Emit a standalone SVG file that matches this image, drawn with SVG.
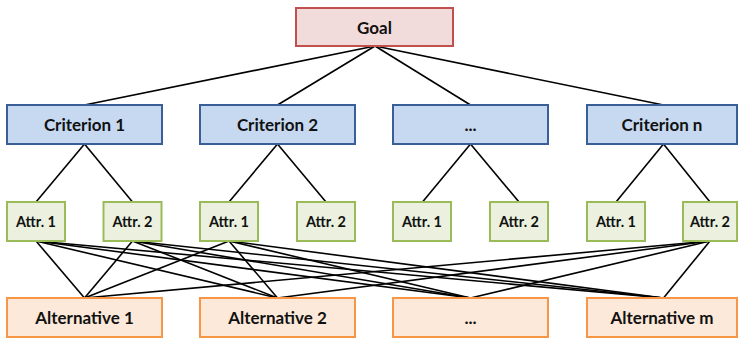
<svg xmlns="http://www.w3.org/2000/svg" width="739" height="338" viewBox="0 0 739 338">
<style>
.t{font-family:Lato,"Open Sans","Liberation Sans",sans-serif;font-weight:bold;fill:#111;text-anchor:middle;dominant-baseline:central}
.big{font-size:17px}
.small{font-size:14.5px}
.goal{fill:#f2dcdb;stroke:#c0504d;stroke-width:2}
.crit{fill:#c6d9f1;stroke:#3a5f96;stroke-width:2}
.attr{fill:#ebf1de;stroke:#9bbb59;stroke-width:2}
.alt{fill:#fde9d9;stroke:#f79646;stroke-width:2}
.c line{stroke:#000;stroke-width:1.6}
</style>
<rect width="739" height="338" fill="#fff"/>
<g class="c" id="connectors">
<line x1="375" y1="46" x2="84.5" y2="105"/>
<line x1="375" y1="46" x2="277.5" y2="105"/>
<line x1="375" y1="46" x2="470.5" y2="105"/>
<line x1="375" y1="46" x2="663.5" y2="105"/>
<line x1="84.5" y1="144" x2="36" y2="202"/>
<line x1="84.5" y1="144" x2="132.5" y2="202"/>
<line x1="277.5" y1="144" x2="229" y2="202"/>
<line x1="277.5" y1="144" x2="326" y2="202"/>
<line x1="470.5" y1="144" x2="422.5" y2="202"/>
<line x1="470.5" y1="144" x2="519" y2="202"/>
<line x1="663.5" y1="144" x2="616" y2="202"/>
<line x1="663.5" y1="144" x2="710" y2="202"/>
<line x1="36" y1="241" x2="84.5" y2="298"/>
<line x1="36" y1="241" x2="277.5" y2="298"/>
<line x1="36" y1="241" x2="470.5" y2="298"/>
<line x1="36" y1="241" x2="663.5" y2="298"/>
<line x1="132.5" y1="241" x2="84.5" y2="298"/>
<line x1="132.5" y1="241" x2="277.5" y2="298"/>
<line x1="132.5" y1="241" x2="470.5" y2="298"/>
<line x1="132.5" y1="241" x2="663.5" y2="298"/>
<line x1="229" y1="241" x2="84.5" y2="298"/>
<line x1="229" y1="241" x2="277.5" y2="298"/>
<line x1="229" y1="241" x2="470.5" y2="298"/>
<line x1="229" y1="241" x2="663.5" y2="298"/>
<line x1="710" y1="241" x2="84.5" y2="298"/>
<line x1="710" y1="241" x2="277.5" y2="298"/>
<line x1="710" y1="241" x2="470.5" y2="298"/>
<line x1="710" y1="241" x2="663.5" y2="298"/>
</g>
<g id="goal"><rect class="goal" x="296" y="8" width="157" height="38"/><text class="t big" x="374.5" y="27">Goal</text></g>
<g id="crit1"><rect class="crit" x="7" y="105" width="155" height="39"/><text class="t big" x="84.5" y="124.5">Criterion 1</text></g>
<g id="crit2"><rect class="crit" x="200" y="105" width="155" height="39"/><text class="t big" x="277.5" y="124.5">Criterion 2</text></g>
<g id="crit3"><rect class="crit" x="393" y="105" width="155" height="39"/><text class="t big" x="470.5" y="124.5">...</text></g>
<g id="critn"><rect class="crit" x="587" y="105" width="150" height="39"/><text class="t big" x="662" y="124.5">Criterion n</text></g>
<g id="a11"><rect class="attr" x="7" y="202" width="58" height="39"/><text class="t small" x="36" y="221.5">Attr. 1</text></g>
<g id="a12"><rect class="attr" x="103.5" y="202" width="58" height="39"/><text class="t small" x="132.5" y="221.5">Attr. 2</text></g>
<g id="a21"><rect class="attr" x="200" y="202" width="58" height="39"/><text class="t small" x="229" y="221.5">Attr. 1</text></g>
<g id="a22"><rect class="attr" x="297" y="202" width="58" height="39"/><text class="t small" x="326" y="221.5">Attr. 2</text></g>
<g id="a31"><rect class="attr" x="393" y="202" width="58" height="39"/><text class="t small" x="422" y="221.5">Attr. 1</text></g>
<g id="a32"><rect class="attr" x="490" y="202" width="58" height="39"/><text class="t small" x="519" y="221.5">Attr. 2</text></g>
<g id="an1"><rect class="attr" x="587" y="202" width="58" height="39"/><text class="t small" x="616" y="221.5">Attr. 1</text></g>
<g id="an2"><rect class="attr" x="683" y="202" width="54" height="39"/><text class="t small" x="710" y="221.5">Attr. 2</text></g>
<g id="alt1"><rect class="alt" x="7" y="298" width="155" height="39"/><text class="t big" x="84.5" y="317.5">Alternative 1</text></g>
<g id="alt2"><rect class="alt" x="200" y="298" width="155" height="39"/><text class="t big" x="277.5" y="317.5">Alternative 2</text></g>
<g id="alt3"><rect class="alt" x="393" y="298" width="155" height="39"/><text class="t big" x="470.5" y="317.5">...</text></g>
<g id="altm"><rect class="alt" x="587" y="298" width="150" height="39"/><text class="t big" x="662" y="317.5">Alternative m</text></g>
</svg>
